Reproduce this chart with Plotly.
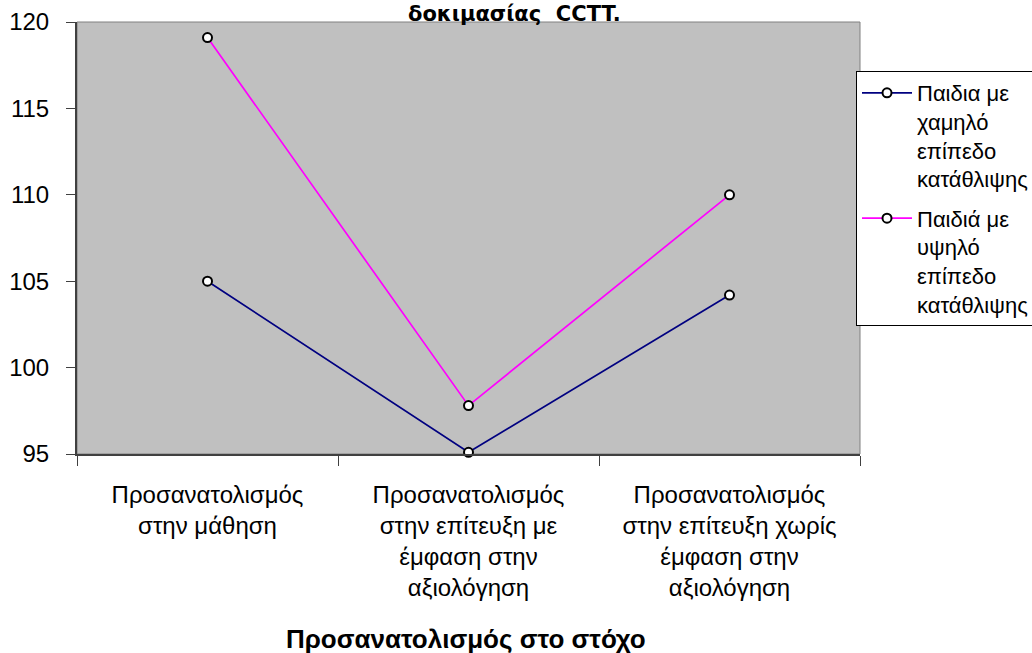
import plotly.graph_objects as go

categories = [
    "Προσανατολισμός<br>στην μάθηση",
    "Προσανατολισμός<br>στην επίτευξη με<br>έμφαση στην<br>αξιολόγηση",
    "Προσανατολισμός<br>στην επίτευξη χωρίς<br>έμφαση στην<br>αξιολόγηση",
]
low_depression = [105.0, 95.1, 104.2]
high_depression = [119.1, 97.8, 110.0]
series_names = [
    "Παιδια με<br>χαμηλό<br>επίπεδο<br>κατάθλιψης",
    "Παιδιά με<br>υψηλό<br>επίπεδο<br>κατάθλιψης",
]
y_ticks = [95, 100, 105, 110, 115, 120]

FONT = "Liberation Sans, Arial, sans-serif"

fig = go.Figure()
for i, (name, vals, color) in enumerate([
    (series_names[0], low_depression, "#000080"),
    (series_names[1], high_depression, "#FF00FF"),
]):
    fig.add_trace(go.Scatter(
        x=categories, y=vals, name=name, mode="lines+markers",
        legendgroup=f"g{i}",
        line=dict(color=color, width=1.7),
        marker=dict(symbol="circle", size=9, color="white",
                    line=dict(color="black", width=2)),
        cliponaxis=False,
    ))

fig.update_layout(
    width=1032, height=653,
    margin=dict(l=77, r=172, t=22, b=199, autoexpand=False),
    paper_bgcolor="white", plot_bgcolor="#C0C0C0",
    font=dict(family=FONT, size=24, color="black"),
    showlegend=True,
    legend=dict(
        x=(856 - 77) / 783, y=(454 - 71) / 432, xanchor="left", yanchor="top",
        bgcolor="white", bordercolor="black", borderwidth=1,
        font=dict(family=FONT, size=22, color="black"),
        valign="top", tracegroupgap=8,
        itemwidth=50,
    ),
    xaxis=dict(
        type="category", range=[-0.5, 2.5], showgrid=False, showline=True,
        linecolor="#404040", linewidth=2, ticks="outside", ticklen=10,
        tickcolor="#404040", tickson="boundaries", automargin=False,
        tickfont=dict(size=24), ticklabelstandoff=18,
    ),
    yaxis=dict(
        range=[95, 120], tickvals=y_ticks, showgrid=False, showline=True,
        linecolor="#404040", linewidth=2, ticks="outside", ticklen=9,
        tickcolor="#404040", tickfont=dict(size=24), zeroline=False,
        automargin=False, ticklabelstandoff=12,
    ),
    shapes=[dict(type="rect", xref="paper", yref="paper", x0=0, x1=1, y0=0, y1=1,
                 line=dict(color="#808080", width=1), layer="below")],
    annotations=[
        dict(text="<b>δοκιμασίας\u00a0\u00a0CCTT.</b>", xref="paper", yref="paper",
             x=(514 - 77) / 783, y=1.0, yshift=-6, xanchor="center", yanchor="bottom",
             showarrow=False,
             font=dict(family="DejaVu Sans, sans-serif", size=21)),
        dict(text="<b>Προσανατολισμός στο στόχο</b>", xref="paper", yref="paper",
             x=(466 - 77) / 783, y=(454 - 639) / 432, xanchor="center", yanchor="middle",
             showarrow=False, font=dict(family=FONT, size=26)),
    ],
)

fig.write_html("out.html", config={"displayModeBar": False},
               post_script="document.body.style.margin='0';")
